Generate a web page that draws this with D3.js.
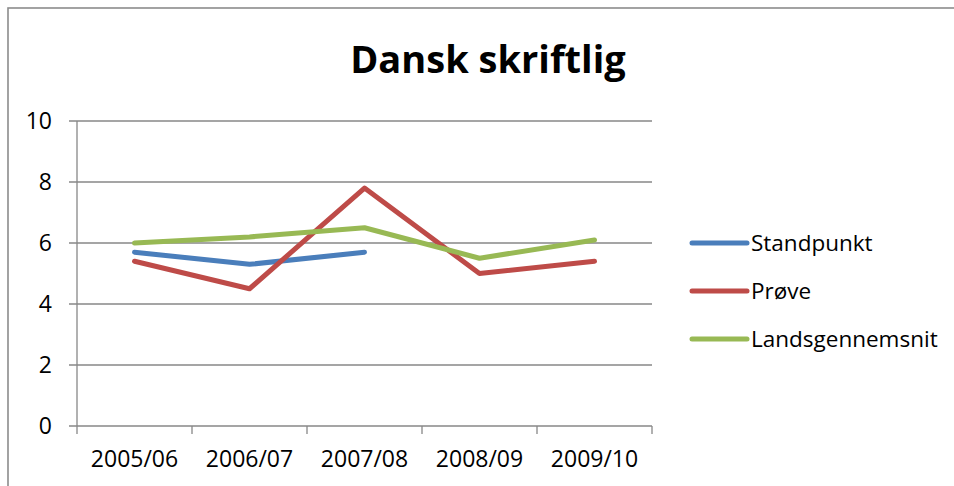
<!DOCTYPE html>
<html>
<head>
<meta charset="utf-8">
<script src="https://cdn.jsdelivr.net/npm/d3@7"></script>
<style>
  body { margin: 0; background: #fff; }
  svg { display: block; font-family: "Open Sans", sans-serif; }
</style>
</head>
<body>
<svg id="chart" width="954" height="486"></svg>
<script>
// chart data
const years = ['2005/06', '2006/07', '2007/08', '2008/09', '2009/10'];
const standpunkt = [5.7, 5.3, 5.7, null, null];
const proeve = [5.4, 4.5, 7.8, 5.0, 5.4];
const landsgennemsnit = [6.0, 6.2, 6.5, 5.5, 6.1];
const yTicks = [0, 2, 4, 6, 8, 10];

const series = [
	{ name: 'Standpunkt', values: standpunkt, color: '#4a7ebb' },
	{ name: 'Prøve', values: proeve, color: '#be4b48' },
	{ name: 'Landsgennemsnit', values: landsgennemsnit, color: '#98b954' },
];

const svg = d3.select('#chart');
const plot = { left: 77, right: 652, top: 121, bottom: 426 };

// outer chart border (only left and top are inside the picture)
svg.append('rect')
	.attr('x', 8).attr('y', 8)
	.attr('width', 1000).attr('height', 600)
	.attr('fill', 'none')
	.attr('stroke', '#8c8c8c')
	.attr('stroke-width', 1.6);

const x = d3.scaleBand().domain(years).range([plot.left, plot.right]);
const y = d3.scaleLinear().domain([0, 10]).range([plot.bottom, plot.top]);

// horizontal gridlines
svg.append('g')
	.selectAll('line')
	.data(yTicks)
	.enter()
	.append('line')
	.attr('x1', plot.left - 8)
	.attr('x2', plot.right)
	.attr('y1', (d) => y(d))
	.attr('y2', (d) => y(d))
	.attr('stroke', '#878787')
	.attr('stroke-width', 1.3);

// y axis line
svg.append('line')
	.attr('x1', plot.left).attr('x2', plot.left)
	.attr('y1', plot.top).attr('y2', plot.bottom)
	.attr('stroke', '#878787')
	.attr('stroke-width', 1.3);

// y labels
svg.append('g')
	.selectAll('text')
	.data(yTicks)
	.enter()
	.append('text')
	.attr('x', 52)
	.attr('y', (d) => y(d))
	.attr('dy', '0.35em')
	.attr('text-anchor', 'end')
	.attr('font-size', 23)
	.attr('fill', '#000')
	.text((d) => d);

// x tick marks at band edges
const edges = years.map((d) => x(d)).concat([plot.right]);
svg.append('g')
	.selectAll('line')
	.data(edges)
	.enter()
	.append('line')
	.attr('x1', (d) => d)
	.attr('x2', (d) => d)
	.attr('y1', plot.bottom)
	.attr('y2', plot.bottom + 8)
	.attr('stroke', '#878787')
	.attr('stroke-width', 1.3);

// x labels
svg.append('g')
	.selectAll('text')
	.data(years)
	.enter()
	.append('text')
	.attr('x', (d) => x(d) + x.bandwidth() / 2)
	.attr('y', 467)
	.attr('text-anchor', 'middle')
	.attr('font-size', 23)
	.attr('fill', '#000')
	.text((d) => d);

// lines
const line = d3.line()
	.defined((d) => d != null)
	.x((d, i) => x(years[i]) + x.bandwidth() / 2)
	.y((d) => y(d));

svg.append('g')
	.selectAll('path')
	.data(series)
	.enter()
	.append('path')
	.attr('d', (s) => line(s.values))
	.attr('fill', 'none')
	.attr('stroke', (s) => s.color)
	.attr('stroke-width', 5)
	.attr('stroke-linejoin', 'round')
	.attr('stroke-linecap', 'round');

// title
svg.append('text')
	.attr('x', 488)
	.attr('y', 73)
	.attr('text-anchor', 'middle')
	.attr('font-size', 38)
	.attr('font-weight', 'bold')
	.attr('fill', '#000')
	.text('Dansk skriftlig');

// legend
const legend = svg.append('g')
	.selectAll('g')
	.data(series)
	.enter()
	.append('g')
	.attr('transform', (d, i) => `translate(692, ${243 + i * 48})`);

legend.append('line')
	.attr('x1', 0).attr('x2', 55)
	.attr('stroke', (d) => d.color)
	.attr('stroke-width', 5)
	.attr('stroke-linecap', 'round');

legend.append('text')
	.attr('x', 59)
	.attr('dy', '0.35em')
	.attr('font-size', 22.5)
	.attr('fill', '#000')
	.text((d) => d.name);
</script>
</body>
</html>
